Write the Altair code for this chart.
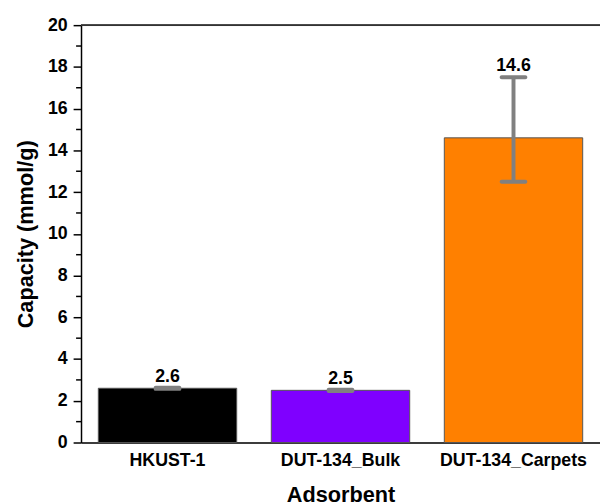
import altair as alt
import pandas as pd

categories = ["HKUST-1", "DUT-134_Bulk", "DUT-134_Carpets"]
capacity = [2.6, 2.5, 14.6]
err_low = [2.57, 2.47, 12.5]
err_high = [2.63, 2.53, 17.5]
labels = ["2.6", "2.5", "14.6"]
colors = ["#000000", "#7F00FF", "#FF8000"]
major_ticks = [0, 2, 4, 6, 8, 10, 12, 14, 16, 18, 20]
minor_ticks = [1, 3, 5, 7, 9, 11, 13, 15, 17, 19]

df = pd.DataFrame({
    "Adsorbent": categories,
    "Capacity": capacity,
    "lo": err_low,
    "hi": err_high,
    "label": labels,
})

W, H = 526, 423
FONT = "Liberation Sans"

x = alt.X("Adsorbent:N", sort=categories,
          scale=alt.Scale(paddingInner=0.2, paddingOuter=0.1),
          axis=alt.Axis(title="Adsorbent", labelAngle=0, ticks=False,
                        labelFont=FONT, labelFontSize=18, labelFontWeight="bold",
                        labelColor="#000", labelPadding=9,
                        titleFont=FONT, titleFontSize=22, titleFontWeight="bold",
                        titleColor="#000", titlePadding=16,
                        domainColor="#000", domainWidth=1.5))

yscale = alt.Scale(domain=[0, 20], nice=False)

base = alt.Chart(df)

bars = base.mark_bar(stroke="#555555", strokeWidth=1).encode(
    x=x,
    y=alt.Y("Capacity:Q", scale=yscale,
            axis=alt.Axis(title="Capacity (mmol/g)", values=major_ticks,
                          labelOverlap=False, grid=False, tickSize=8, tickWidth=1.5,
                          tickColor="#000", domainColor="#000", domainWidth=1.5,
                          labelFont=FONT, labelFontSize=18, labelFontWeight="bold",
                          labelColor="#000", labelPadding=6,
                          titleFont=FONT, titleFontSize=22, titleFontWeight="bold",
                          titleColor="#000", titlePadding=10)),
    color=alt.Color("Adsorbent:N", sort=categories,
                    scale=alt.Scale(domain=categories, range=colors), legend=None),
)

minor = alt.Chart(pd.DataFrame({"v": minor_ticks})).mark_rule(
    color="#000", strokeWidth=1.5).encode(
    y=alt.Y("v:Q", scale=yscale),
    x=alt.value(-5), x2=alt.value(0),
)

err = base.mark_rule(color="#808080", strokeWidth=4).encode(
    x=alt.X("Adsorbent:N", sort=categories),
    y=alt.Y("lo:Q", scale=yscale),
    y2="hi:Q",
)
cap_hi = base.mark_tick(color="#808080", thickness=4, size=28, orient="horizontal",
                        cornerRadius=2, opacity=1).encode(
    x=alt.X("Adsorbent:N", sort=categories),
    y=alt.Y("hi:Q", scale=yscale),
)
cap_lo = base.mark_tick(color="#808080", thickness=4, size=28, orient="horizontal",
                        cornerRadius=2, opacity=1).encode(
    x=alt.X("Adsorbent:N", sort=categories),
    y=alt.Y("lo:Q", scale=yscale),
)
text = base.mark_text(font=FONT, fontSize=18, fontWeight="bold", color="#000",
                      baseline="alphabetic", dy=-6).encode(
    x=alt.X("Adsorbent:N", sort=categories),
    y=alt.Y("hi:Q", scale=yscale),
    text="label:N",
)
top = alt.Chart(df).mark_rule(color="#333", strokeWidth=1.5).encode(
    x=alt.value(0), x2=alt.value(W), y=alt.value(0),
)

chart = alt.layer(bars, minor, err, cap_hi, cap_lo, text, top).properties(
    width=W, height=H,
    autosize=alt.AutoSizeParams(type="none"),
    padding={"left": 74, "top": 14, "right": 0, "bottom": 64},
).configure_view(stroke=None).configure(background="white")

chart.save("out.html", embed_options={"renderer": "svg", "actions": False})
